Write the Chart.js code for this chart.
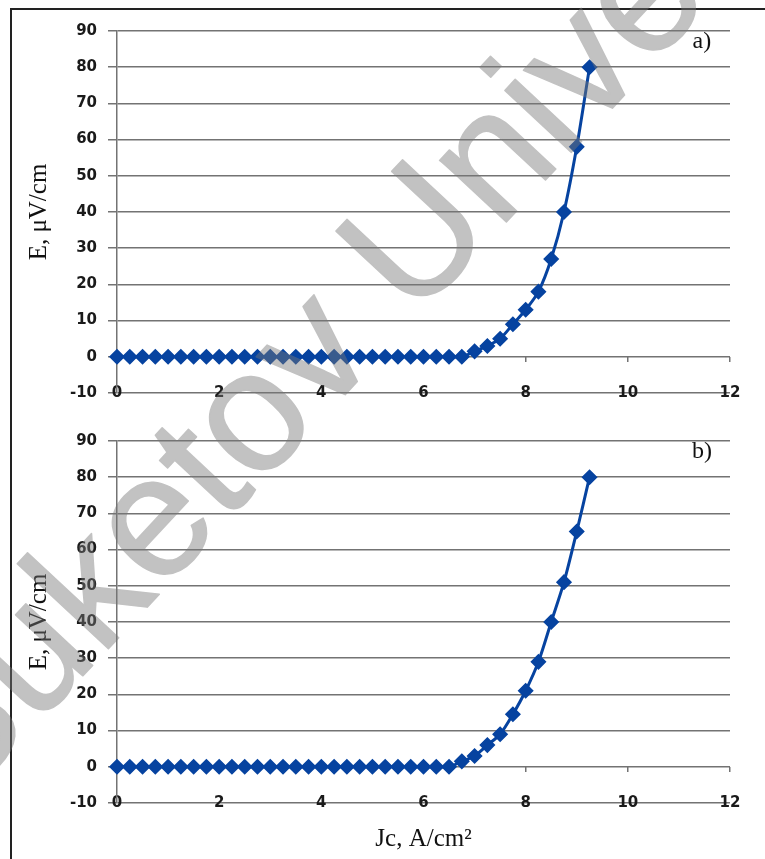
<!DOCTYPE html>
<html>
<head>
<meta charset="utf-8">
<script src="https://cdn.jsdelivr.net/npm/chart.js"></script>
<style>
  html, body { margin: 0; padding: 0; background: #fff; }
  body { width: 765px; height: 859px; position: relative; overflow: hidden; }
  #frame { position: absolute; left: 10px; top: 8px; width: 800px; height: 900px;
           border-left: 2px solid #222; border-top: 2px solid #222; }
  canvas { position: absolute; left: 0; }
  #chartA { top: 0; }
  #chartB { top: 420px; }
</style>
</head>
<body>
<div id="frame"></div>
<canvas id="chartA" width="765" height="420"></canvas>
<canvas id="chartB" width="765" height="439"></canvas>
<script>
// данные (Jc, A/cm2 -> E, μV/cm)
const jc = [0, 0.25, 0.5, 0.75, 1, 1.25, 1.5, 1.75, 2, 2.25, 2.5, 2.75, 3, 3.25, 3.5, 3.75,
  4, 4.25, 4.5, 4.75, 5, 5.25, 5.5, 5.75, 6, 6.25, 6.5, 6.75, 7, 7.25, 7.5, 7.75,
  8, 8.25, 8.5, 8.75, 9, 9.25];
const eA = [0, 0, 0, 0, 0, 0, 0, 0, 0, 0, 0, 0, 0, 0, 0, 0,
  0, 0, 0, 0, 0, 0, 0, 0, 0, 0, 0, 0, 1.5, 3, 5, 9,
  13, 18, 27, 40, 58, 80];
const eB = [0, 0, 0, 0, 0, 0, 0, 0, 0, 0, 0, 0, 0, 0, 0, 0,
  0, 0, 0, 0, 0, 0, 0, 0, 0, 0, 0, 1.5, 3, 6, 9, 14.5,
  21, 29, 40, 51, 65, 80];
const xTicks = [0, 2, 4, 6, 8, 10, 12];
const yTicks = [-10, 0, 10, 20, 30, 40, 50, 60, 70, 80, 90];

const BLUE = '#0643a0';
const GRID = '#737373';
const tickFont = { family: 'DejaVu Sans', size: 15, weight: 'bold' };
const serif = 'Liberation Serif';
const WATERMARK = 'Buketov University';

// метка a) / b)
const panelLabel = {
  id: 'panelLabel',
  afterDatasetsDraw(chart, args, opts) {
    const { ctx, scales: { x, y } } = chart;
    ctx.save();
    ctx.font = '24px "' + serif + '"';
    ctx.fillStyle = '#111';
    ctx.textAlign = 'center';
    ctx.textBaseline = 'middle';
    ctx.fillText(opts.text, x.getPixelForValue(11.45), y.getPixelForValue(87));
    ctx.restore();
  }
};

// водяной знак поверх обоих графиков
const watermark = {
  id: 'watermark',
  afterDraw(chart, args, opts) {
    const off = document.createElement('canvas');
    off.width = chart.width;
    off.height = chart.height;
    const o = off.getContext('2d');
    o.translate(-43, 811 - opts.top);
    o.rotate(-47 * Math.PI / 180);
    o.font = '172px "Liberation Sans"';
    o.fillStyle = '#787878';
    o.strokeStyle = '#787878';
    o.lineWidth = 1.5;
    o.lineJoin = 'round';
    o.fillText(WATERMARK, 0, 0);
    o.strokeText(WATERMARK, 0, 0);
    const ctx = chart.ctx;
    ctx.save();
    ctx.globalAlpha = 0.45;
    ctx.drawImage(off, 0, 0);
    ctx.restore();
  }
};

function setTicks(list) {
  return scale => { scale.ticks = list.map(v => ({ value: v })); };
}

function makeChart(id, values, tag, top, withTitle) {
  return new Chart(document.getElementById(id), {
    type: 'line',
    data: {
      datasets: [{
        data: jc.map((x, i) => ({ x: x, y: values[i] })),
        borderColor: BLUE,
        backgroundColor: BLUE,
        borderWidth: 3,
        pointStyle: 'rectRot',
        pointRadius: 7,
        pointHoverRadius: 7,
        pointBorderWidth: 1.5,
        pointBorderColor: BLUE,
        tension: 0.3,
        clip: false
      }]
    },
    options: {
      responsive: false,
      animation: false,
      events: [],
      layout: { padding: { top: withTitle ? 21 : 31, right: 35, bottom: withTitle ? 56 : 27, left: 0 } },
      plugins: {
        legend: { display: false },
        tooltip: { enabled: false },
        panelLabel: { text: tag },
        watermark: { top: top }
      },
      scales: {
        // подписи оси X лежат прямо на линии -10, как в Excel
        x: {
          type: 'linear',
          position: { y: -10 },
          min: 0, max: 12,
          afterBuildTicks: setTicks(xTicks),
          afterFit: s => { s.height = withTitle ? 56 : 27; },
          grid: { display: false, drawTicks: false },
          border: { display: false },
          ticks: { padding: -9, font: tickFont, color: '#1a1a1a', maxRotation: 0 },
          title: {
            display: withTitle,
            text: 'Jc, A/cm²',
            font: { family: serif, size: 25 },
            color: '#111',
            padding: { top: 0, bottom: 5 }
          }
        },
        // короткие засечки вниз от линии 0
        x0: {
          type: 'linear',
          axis: 'x',
          position: { y: 0 },
          min: 0, max: 12,
          afterBuildTicks: setTicks(xTicks),
          afterFit: s => { s.height = 0; },
          grid: { drawOnChartArea: false, tickLength: 5, color: GRID, lineWidth: 1.5 },
          border: { display: false },
          ticks: { display: false }
        },
        y: {
          min: -10, max: 90,
          afterBuildTicks: setTicks(yTicks),
          afterFit: s => { s.width = 117; },
          grid: { color: GRID, lineWidth: 1.5, tickLength: 9 },
          border: { color: GRID, width: 1.5 },
          ticks: { padding: 11, font: tickFont, color: '#1a1a1a' },
          title: {
            display: true,
            text: 'E, μV/cm',
            font: { family: serif, size: 25 },
            color: '#111',
            padding: { top: 24, bottom: 0 }
          }
        }
      }
    },
    plugins: [panelLabel, watermark]
  });
}

makeChart('chartA', eA, 'a)', 0, false);
makeChart('chartB', eB, 'b)', 420, true);
</script>
</body>
</html>
